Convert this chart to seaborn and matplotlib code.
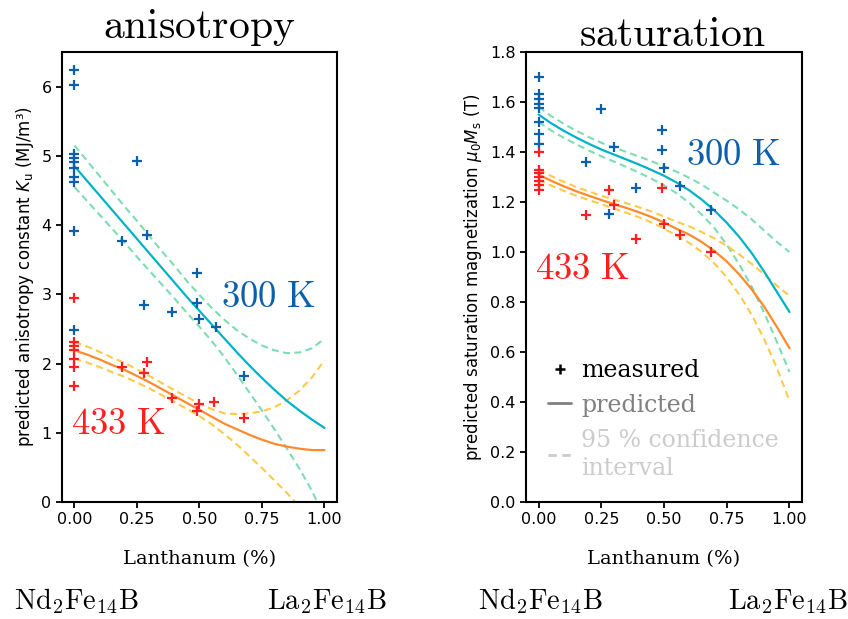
import numpy as np
import pandas as pd
import seaborn as sns
import matplotlib.pyplot as plt
from matplotlib.lines import Line2D

# composition grid of the fitted curves (La fraction)
lam_grid = [0.00, 0.05, 0.10, 0.15, 0.20, 0.25, 0.30, 0.35, 0.40, 0.45, 0.50,
            0.55, 0.60, 0.65, 0.70, 0.75, 0.80, 0.85, 0.90, 0.95, 1.00]

# anisotropy, measured
ku_lam_300 = [0, 0, 0, 0, 0, 0, 0, 0, 0, 0,
              0.19, 0.25, 0.28, 0.29, 0.39, 0.49, 0.49, 0.50, 0.565, 0.68]
ku_meas_300 = [6.24, 6.03, 5.03, 4.97, 4.91, 4.83, 4.70, 4.62, 3.91, 2.49,
               3.77, 4.92, 2.85, 3.86, 2.74, 3.31, 2.88, 2.64, 2.53, 1.82]
ku_lam_433 = [0, 0, 0, 0, 0, 0, 0,
              0.19, 0.28, 0.29, 0.39, 0.49, 0.50, 0.56, 0.68]
ku_meas_433 = [2.95, 2.31, 2.25, 2.20, 2.07, 1.95, 1.68,
               1.95, 1.87, 2.02, 1.50, 1.31, 1.41, 1.44, 1.21]

# anisotropy, predicted + 95 % band
ku_pred_300 = [4.85, 4.64, 4.43, 4.22, 4.01, 3.80, 3.59, 3.38, 3.17, 2.96, 2.76,
               2.56, 2.36, 2.16, 1.97, 1.79, 1.62, 1.46, 1.32, 1.19, 1.07]
ku_hi_300 = [5.15, 4.93, 4.71, 4.49, 4.27, 4.06, 3.84, 3.62, 3.41, 3.19, 2.99,
             2.80, 2.63, 2.48, 2.36, 2.26, 2.19, 2.15, 2.16, 2.22, 2.36]
ku_lo_300 = [4.55, 4.35, 4.15, 3.95, 3.75, 3.54, 3.34, 3.14, 2.94, 2.73, 2.53,
             2.32, 2.09, 1.84, 1.58, 1.32, 1.05, 0.77, 0.48, 0.16, -0.22]
ku_pred_433 = [2.19, 2.13, 2.06, 1.98, 1.91, 1.82, 1.73, 1.63, 1.53, 1.43, 1.33,
               1.23, 1.13, 1.05, 0.97, 0.90, 0.84, 0.80, 0.77, 0.75, 0.75]
ku_hi_433 = [2.31, 2.245, 2.17, 2.085, 2.01, 1.915, 1.82, 1.717, 1.615, 1.517, 1.42,
             1.34, 1.28, 1.27, 1.28, 1.31, 1.37, 1.47, 1.61, 1.80, 2.05]
ku_lo_433 = [2.07, 2.015, 1.95, 1.875, 1.81, 1.725, 1.64, 1.543, 1.445, 1.343, 1.24,
             1.12, 0.98, 0.83, 0.66, 0.49, 0.31, 0.13, -0.07, -0.30, -0.55]

# saturation, measured
ms_lam_300 = [0, 0, 0, 0, 0, 0, 0, 0,
              0.19, 0.25, 0.28, 0.30, 0.39, 0.49, 0.49, 0.50, 0.565, 0.686]
ms_meas_300 = [1.70, 1.63, 1.61, 1.59, 1.575, 1.52, 1.47, 1.43,
               1.36, 1.573, 1.154, 1.42, 1.254, 1.487, 1.407, 1.336, 1.263, 1.17]
ms_lam_433 = [0, 0, 0, 0, 0, 0, 0,
              0.19, 0.28, 0.30, 0.39, 0.49, 0.50, 0.565, 0.686]
ms_meas_433 = [1.40, 1.327, 1.314, 1.30, 1.285, 1.267, 1.247,
               1.15, 1.247, 1.19, 1.051, 1.254, 1.114, 1.067, 1.00]

# saturation, predicted + 95 % band
ms_pred_300 = [1.55, 1.515, 1.485, 1.458, 1.433, 1.41, 1.39, 1.37, 1.35, 1.328, 1.305,
               1.278, 1.247, 1.21, 1.167, 1.117, 1.06, 0.995, 0.92, 0.84, 0.76]
ms_hi_300 = [1.58, 1.544, 1.513, 1.485, 1.46, 1.437, 1.418, 1.40, 1.382, 1.363, 1.343,
             1.321, 1.297, 1.27, 1.237, 1.205, 1.17, 1.13, 1.085, 1.04, 1.00]
ms_lo_300 = [1.52, 1.486, 1.457, 1.431, 1.406, 1.383, 1.362, 1.34, 1.318, 1.293, 1.267,
             1.235, 1.197, 1.15, 1.097, 1.029, 0.95, 0.86, 0.755, 0.64, 0.52]
ms_pred_433 = [1.31, 1.285, 1.263, 1.243, 1.225, 1.208, 1.192, 1.176, 1.159, 1.14, 1.118,
               1.093, 1.07, 1.04, 1.005, 0.962, 0.91, 0.85, 0.78, 0.70, 0.615]
ms_hi_433 = [1.33, 1.304, 1.281, 1.26, 1.242, 1.225, 1.21, 1.195, 1.179, 1.162, 1.142,
             1.121, 1.103, 1.08, 1.055, 1.025, 0.99, 0.952, 0.91, 0.865, 0.825]
ms_lo_433 = [1.29, 1.266, 1.245, 1.225, 1.208, 1.191, 1.174, 1.157, 1.139, 1.118, 1.094,
             1.065, 1.037, 1.00, 0.955, 0.899, 0.83, 0.748, 0.65, 0.535, 0.405]

c_blue = '#0c5fab'
c_red = '#ff1f1f'
c_cyan = '#00b2c8'
c_mint = '#7edcb2'
c_orange = '#ff8a2e'
c_yellow = '#ffc94a'

sns.set_style('ticks', {'axes.edgecolor': 'black', 'text.color': 'black',
                        'axes.labelcolor': 'black', 'xtick.color': 'black',
                        'ytick.color': 'black'})
plt.rcParams['font.family'] = ['DejaVu Sans']
plt.rcParams['axes.linewidth'] = 1.5
plt.rcParams['xtick.major.width'] = 1.3
plt.rcParams['ytick.major.width'] = 1.3
plt.rcParams['xtick.major.size'] = 4
plt.rcParams['ytick.major.size'] = 4

dash = (0, (3.4, 2.1))
serif = 'DejaVu Serif'

fig = plt.figure(figsize=(8.48, 6.19), dpi=100)
ax1 = fig.add_axes([0.0731, 0.189, 0.3243, 0.727])
ax2 = fig.add_axes([0.6203, 0.189, 0.3255, 0.727])


def draw_panel(ax, lam300, meas300, lam433, meas433,
               pred300, hi300, lo300, pred433, hi433, lo433):
    sns.lineplot(x=lam_grid, y=hi300, ax=ax, color=c_mint, lw=1.5, linestyle=dash)
    sns.lineplot(x=lam_grid, y=lo300, ax=ax, color=c_mint, lw=1.5, linestyle=dash)
    sns.lineplot(x=lam_grid, y=hi433, ax=ax, color=c_yellow, lw=1.5, linestyle=dash)
    sns.lineplot(x=lam_grid, y=lo433, ax=ax, color=c_yellow, lw=1.5, linestyle=dash)
    sns.lineplot(x=lam_grid, y=pred300, ax=ax, color=c_cyan, lw=1.6)
    sns.lineplot(x=lam_grid, y=pred433, ax=ax, color=c_orange, lw=1.6)
    sns.scatterplot(x=lam300, y=meas300, ax=ax, marker='+', s=45, linewidth=1.6,
                    color=c_blue, zorder=3)
    sns.scatterplot(x=lam433, y=meas433, ax=ax, marker='+', s=45, linewidth=1.6,
                    color=c_red, zorder=3)
    ax.set_xlim(-0.05, 1.05)
    ax.set_xticks([0, 0.25, 0.5, 0.75, 1.0])
    ax.set_xticklabels(['0.00', '0.25', '0.50', '0.75', '1.00'])
    ax.tick_params(labelsize=11.5)
    ax.set_xlabel('Lanthanum (%)', family=serif, fontsize=14, labelpad=16)


draw_panel(ax1, ku_lam_300, ku_meas_300, ku_lam_433, ku_meas_433,
           ku_pred_300, ku_hi_300, ku_lo_300, ku_pred_433, ku_hi_433, ku_lo_433)
draw_panel(ax2, ms_lam_300, ms_meas_300, ms_lam_433, ms_meas_433,
           ms_pred_300, ms_hi_300, ms_lo_300, ms_pred_433, ms_hi_433, ms_lo_433)

ax1.set_ylim(0, 6.5)
ax1.set_yticks(range(0, 7))
ax1.set_ylabel('predicted anisotropy constant $K_\\mathrm{u}$ (MJ/m³)', fontsize=12)
ax2.set_ylim(0, 1.8)
ax2.set_yticks(np.arange(0, 1.81, 0.2))
ax2.set_yticklabels([f'{v:.1f}' for v in np.arange(0, 1.81, 0.2)])
ax2.set_ylabel('predicted saturation magnetization $\\mu_0M_\\mathrm{s}$ (T)', fontsize=12)

# titles and temperature labels in Computer Modern
ax1.text(0.5, 1.03, r'$\mathrm{anisotropy}$', transform=ax1.transAxes,
         ha='center', va='baseline', fontsize=30, math_fontfamily='cm')
ax2.text(0.53, 1.014, r'$\mathrm{saturation}$', transform=ax2.transAxes,
         ha='center', va='baseline', fontsize=30, math_fontfamily='cm')
ax1.text(0.775, 2.97, r'$\mathrm{300\ K}$', color=c_blue, ha='center', va='center',
         fontsize=26.5, math_fontfamily='cm')
ax1.text(0.175, 1.14, r'$\mathrm{433\ K}$', color=c_red, ha='center', va='center',
         fontsize=26.5, math_fontfamily='cm')
ax2.text(0.778, 1.388, r'$\mathrm{300\ K}$', color=c_blue, ha='center', va='center',
         fontsize=26.5, math_fontfamily='cm')
ax2.text(0.175, 0.936, r'$\mathrm{433\ K}$', color=c_red, ha='center', va='center',
         fontsize=26.5, math_fontfamily='cm')

nd = r'$\mathrm{Nd_2Fe_{14}B}$'
la = r'$\mathrm{La_2Fe_{14}B}$'
for xpos, lab in [(14, nd), (267, la), (478, nd), (728, la)]:
    fig.text(xpos / 848, 1 - 609 / 619, lab, ha='left', va='baseline',
             fontsize=20.5, math_fontfamily='cm')

handles = [
    Line2D([], [], color='black', marker='+', linestyle='none', markersize=7, mew=1.8),
    Line2D([], [], color='#808080', lw=2),
    Line2D([], [], color='#cccccc', lw=2, linestyle=(0, (3, 2))),
]
leg = ax2.legend(handles, ['measured', 'predicted', '95 % confidence\ninterval'],
                 loc='lower left', bbox_to_anchor=(0.045, 0.028), frameon=False,
                 prop={'family': serif, 'size': 17}, handlelength=1.0,
                 handletextpad=0.42, labelspacing=0.5, borderaxespad=0)
for txt, col in zip(leg.get_texts(), ['black', '#808080', '#cccccc']):
    txt.set_color(col)
    txt.set_linespacing(1.3)

fig.savefig('out.png', dpi=100)
